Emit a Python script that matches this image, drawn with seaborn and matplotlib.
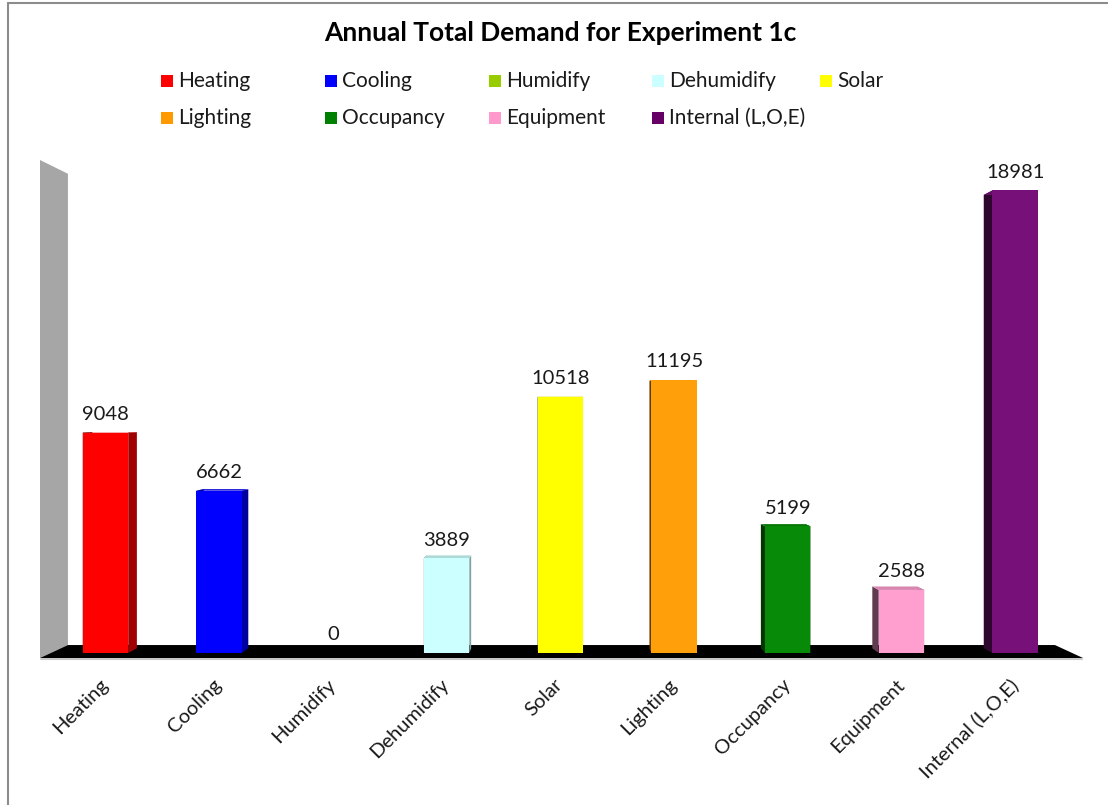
import matplotlib
matplotlib.use("Agg")
import matplotlib.pyplot as plt
import matplotlib.colors as mcolors
from matplotlib.patches import Polygon, Rectangle
from matplotlib.lines import Line2D
import numpy as np
import pandas as pd
import seaborn as sns

# ---- data -------------------------------------------------------------
categories = ["Heating", "Cooling", "Humidify", "Dehumidify", "Solar",
              "Lighting", "Occupancy", "Equipment", "Internal (L,O,E)"]
demand = [9048, 6662, 0, 3889, 10518, 11195, 5199, 2588, 18981]
bar_colors = ["#FF0000", "#0000FF", "#99CC00", "#CCFFFF", "#FFFF00",
              "#FFA00A", "#078A07", "#FF9FD0", "#78107A"]
legend_colors = ["#FF0000", "#0000FF", "#99CC00", "#CCFFFF", "#FFFF00",
                 "#FF9900", "#008000", "#FF99CC", "#660066"]
title = "Annual Total Demand for Experiment 1c"

# ---- style ------------------------------------------------------------
sns.set_theme(style="white")
plt.rcParams["font.family"] = ["Lato", "DejaVu Sans"]
TEXT = "#1A1A1A"

W, H = 1108, 805
fig = plt.figure(figsize=(W / 100, H / 100), dpi=100)
fig.patch.set_facecolor("white")

# plot area: floor front spans the full width, value axis from 0 upward
ax = fig.add_axes([40 / W, (H - 653) / H, (1083 - 40) / W, (653 - 160) / H])

df = pd.DataFrame({"category": categories, "demand": demand})
sns.barplot(data=df, x="category", y="demand", hue="category",
            palette=bar_colors, width=0.4, saturation=1, legend=False,
            ax=ax, zorder=3, linewidth=0)

ax.set_xlim(-0.576, 8.597)
ax.set_ylim(0, 20230)
ax.set_facecolor("none")
for s in ax.spines.values():
    s.set_visible(False)
ax.set_yticks([])
ax.set_xlabel("")
ax.set_ylabel("")

# ---- pseudo 3D: perspective toward a vanishing point -------------------
x0, x1 = ax.get_xlim()
y_top = ax.get_ylim()[1]
vp = np.array([4.0, 9700.0])       # vanishing point in data units
room_depth = 0.0537                # floor / wall depth factor
bar_depth = 0.02                   # bar depth factor
floor_y = -205.0


def recede(p, f):
    p = np.asarray(p, dtype=float)
    return p + f * (vp - p)


# floor
fl = [(x0, floor_y), (x1, floor_y)]
floor = [fl[0], fl[1], recede(fl[1], room_depth), recede(fl[0], room_depth)]
ax.add_patch(Polygon(floor, closed=True, facecolor="black", edgecolor="none",
                     zorder=1.2, clip_on=False))
ax.add_line(Line2D([x0 + 0.01, x1 - 0.01], [floor_y - 60, floor_y - 60],
                   color="#C8C8C8", lw=1.5, zorder=1.1, clip_on=False))

# side wall
wall = [(x0, floor_y), (x0, y_top), recede((x0, y_top), room_depth),
        recede((x0, floor_y), room_depth)]
ax.add_patch(Polygon(wall, closed=True, facecolor="#A6A6A6", edgecolor="none",
                     zorder=1.0, clip_on=False))


def shade(color, f):
    r, g, b = mcolors.to_rgb(color)
    return (r * f, g * f, b * f)


# bar side and top faces
for patch, color in zip(ax.patches[:len(categories)], bar_colors):
    bx, bw, bh = patch.get_x(), patch.get_width(), patch.get_height()
    if bh <= 0:
        continue
    BL, BR = (bx, 0.0), (bx + bw, 0.0)
    TL, TR = (bx, bh), (bx + bw, bh)
    bBL, bBR = recede(BL, bar_depth), recede(BR, bar_depth)
    bTL, bTR = recede(TL, bar_depth), recede(TR, bar_depth)
    ax.add_patch(Polygon([BR, TR, bTR, bBR], closed=True, linewidth=0,
                         facecolor=shade(color, 0.63), zorder=2.0))
    ax.add_patch(Polygon([BL, TL, bTL, bBL], closed=True, linewidth=0,
                         facecolor=shade(color, 0.38), zorder=2.0))
    ax.add_patch(Polygon([TL, TR, bTR, bTL], closed=True, linewidth=0,
                         facecolor=shade(color, 0.85), zorder=2.5))

# value labels
for i, v in enumerate(demand):
    ax.annotate(f"{v}", xy=(i, v), xytext=(0, 7), textcoords="offset points",
                ha="center", va="bottom", fontsize=14.5, color=TEXT, zorder=5)

# category labels
ax.set_xticks(range(len(categories)))
ax.set_xticklabels(categories, rotation=45, ha="right", va="center",
                   rotation_mode="anchor", fontsize=14.5, color=TEXT)
ax.tick_params(axis="x", length=0, pad=21)

# ---- title ------------------------------------------------------------
fig.text(560 / W, 1 - 33 / H, title, ha="center", va="center",
         fontsize=19, fontweight="bold", color="black")

# ---- legend (two rows on a fixed grid) --------------------------------
col_x = [167, 331, 495, 658, 826]
row_y = [81, 118]
for i, (name, c) in enumerate(zip(categories, legend_colors)):
    cx = col_x[i % 5]
    cy = row_y[i // 5]
    fig.add_artist(Rectangle(((cx - 6) / W, 1 - (cy + 6) / H), 12 / W, 12 / H,
                             transform=fig.transFigure, facecolor=c,
                             edgecolor="none"))
    fig.text((cx + 11) / W, 1 - cy / H, name, ha="left", va="center",
             fontsize=15, color=TEXT)

# ---- frame ------------------------------------------------------------
fig.add_artist(Line2D([7.5 / W, 7.5 / W], [0, 1 - 3.5 / H],
                      transform=fig.transFigure, color="#8C8C8C", lw=1.5))
fig.add_artist(Line2D([7.5 / W, 1], [1 - 3.5 / H, 1 - 3.5 / H],
                      transform=fig.transFigure, color="#8C8C8C", lw=1.5))

fig.savefig("out.png", dpi=100, facecolor="white")
